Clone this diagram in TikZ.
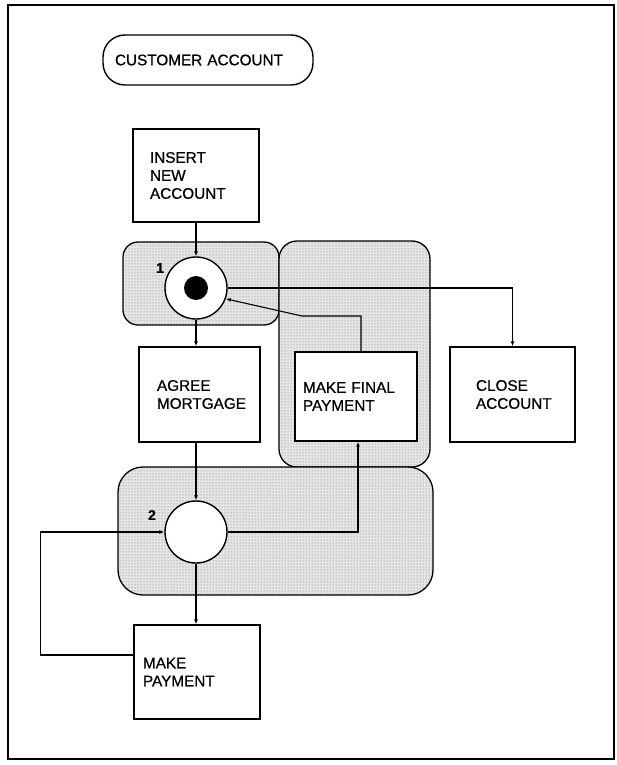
\documentclass[tikz,border=0pt]{standalone}
\usepackage{fontspec}
\setmainfont{Liberation Sans}[FakeBold=0.7]
\usetikzlibrary{arrows.meta,patterns}

\begin{document}
\begin{tikzpicture}[x=1pt, y=-1pt, >={Latex[length=5pt,width=4pt]},
  font=\fontsize{15.3}{18}\selectfont,
  proc/.style={draw, fill=white, line width=1.4pt, align=left, inner ysep=0pt},
  state/.style={circle, draw, fill=white, line width=1.4pt, minimum size=62pt, inner sep=0pt},
  zone/.style={draw, line width=1.3pt, preaction={fill=black!10}, pattern=dots, pattern color=black!55},
  flow/.style={->, line width=1.1pt}]
  \useasboundingbox (0,0) rectangle (616,765);
  \draw[line width=1.4pt] (8,5) rectangle (614,759);
  % shaded groups
  \draw[zone, rounded corners=15pt] (123,242) rectangle (279,325);
  \draw[zone, rounded corners=18pt] (279,241) rectangle (430,467);
  \draw[zone, rounded corners=25pt] (118,467) rectangle (433,595);
  % title
  \node[draw, line width=1.4pt, rounded corners=22pt, align=left, inner xsep=12pt,
    text width=186pt, minimum height=50pt] (entity) at (208,60) {CUSTOMER ACCOUNT};
  % events
  \node[proc, inner xsep=17pt, text width=92pt, minimum height=93pt] (insert) at (196,175.5) {INSERT\\NEW\\ACCOUNT};
  \node[proc, inner xsep=18pt, text width=85pt, minimum height=95pt] (agree) at (199.5,394.5) {AGREE\\MORTGAGE};
  \node[proc, inner xsep=8pt, text width=106pt, minimum height=89pt] (final) at (356,396.5) {MAKE FINAL\\PAYMENT};
  \node[proc, inner xsep=26pt, text width=73pt, minimum height=95pt] (close) at (512.5,394.5) {CLOSE\\ACCOUNT};
  \node[proc, inner xsep=9pt, text width=108pt, minimum height=94pt] (pay) at (197,672) {MAKE\\PAYMENT};
  % states
  \node[state] (s1) at (196,288) {};
  \fill (s1) circle (12pt);
  \node[state] (s2) at (196,532) {};
  \node[font=\fontsize{14}{16}\bfseries] (n1) at (160,268) {1};
  \node[font=\fontsize{14}{16}\bfseries] (n2) at (152,515) {2};
  \coordinate (bend) at (302,316);
  \draw[flow] (insert.south) -- (s1.north);
  \draw[flow] (s1.south) -- (s1.south |- agree.north);
  \draw[flow] (agree.south -| s2) -- (s2.north);
  \draw[flow] (s2.south) -- (s2.south |- pay.north);
  \draw[flow] (s1.east) -| (close.north);
  \draw[flow] ([xshift=5pt]final.north) |- (bend) -- (s1.-20);
  \draw[flow] (s2.east) -| ([xshift=2pt]final.south);
  \draw[flow] ([yshift=17pt]pay.west) -- ++(-93,0) |- (s2.west);
\end{tikzpicture}
\end{document}
